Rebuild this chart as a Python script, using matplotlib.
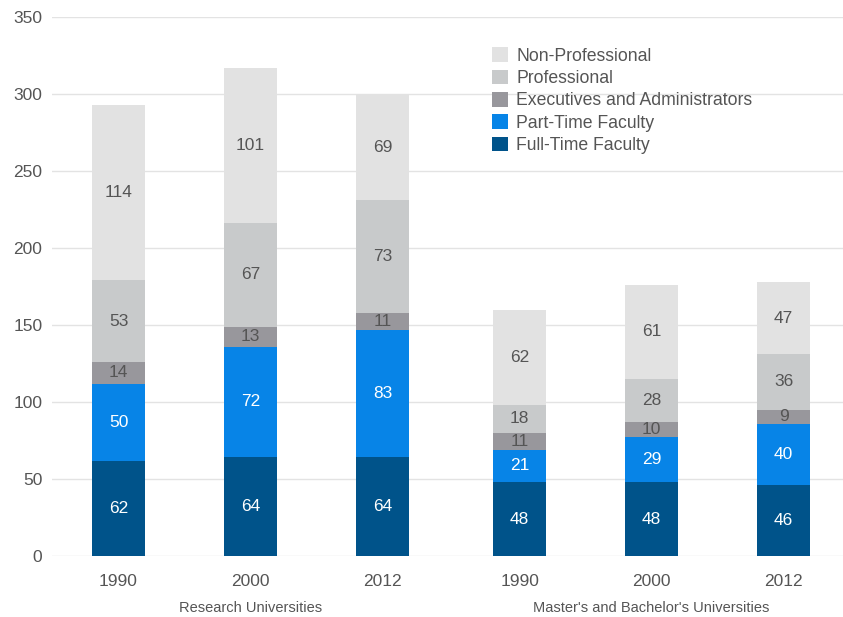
import numpy as np
import matplotlib.pyplot as plt

plt.rcParams['font.family'] = ['Liberation Sans', 'DejaVu Sans']

years = ["1990", "2000", "2012", "1990", "2000", "2012"]
groups = ["Research Universities", "Master's and Bachelor's Universities"]

full_time = [62, 64, 64, 48, 48, 46]
part_time = [50, 72, 83, 21, 29, 40]
executives = [14, 13, 11, 11, 10, 9]
professional = [53, 67, 73, 18, 28, 36]
non_professional = [114, 101, 69, 62, 61, 47]

series = [
    ("Full-Time Faculty", full_time, "#00538a", "white"),
    ("Part-Time Faculty", part_time, "#0784e7", "white"),
    ("Executives and Administrators", executives, "#98979c", "#555555"),
    ("Professional", professional, "#c8cacb", "#555555"),
    ("Non-Professional", non_professional, "#e2e2e2", "#555555"),
]

x = np.array([0, 1, 2, 3.04, 4.04, 5.04])

fig = plt.figure(figsize=(8.43, 6.17), dpi=100)
ax = fig.add_axes([0.0617, 0.0989, 0.9383, 0.8735])

bottom = np.zeros(len(x))
handles = []
for name, vals, color, tcolor in series:
    vals = np.array(vals, dtype=float)
    bars = ax.bar(x, vals, width=0.40, bottom=bottom, color=color, label=name, zorder=3)
    handles.append(bars)
    for xi, b, v in zip(x, bottom, vals):
        ax.text(xi, b + v / 2, f"{int(v)}", ha='center', va='center',
                color=tcolor, fontsize=12.5, zorder=4)
    bottom += vals

ax.set_xlim(-0.504, 5.49)
ax.set_ylim(0, 350)
ax.set_yticks(range(0, 351, 50))
ax.yaxis.grid(True, color='#e3e3e3', linewidth=1, zorder=0)
for s in ax.spines.values():
    s.set_visible(False)
ax.tick_params(axis='both', length=0, labelsize=12.5, labelcolor='#555555')
ax.tick_params(axis='y', pad=7)
ax.tick_params(axis='x', pad=13)
ax.set_xticks(x)
ax.set_xticklabels(years)

for gname, gx in zip(groups, [x[1], x[4]]):
    ax.text(gx, -0.084, gname, transform=ax.get_xaxis_transform(),
            ha='center', va='top', fontsize=10.5, color='#555555')

leg = ax.legend(handles[::-1], [s[0] for s in series][::-1],
                loc='upper left', bbox_to_anchor=(0.547, 0.957), frameon=False,
                fontsize=12.7, handlelength=0.9, handleheight=0.9,
                handletextpad=0.5, labelspacing=0.28, borderaxespad=0)
for t in leg.get_texts():
    t.set_color('#555555')

fig.savefig("out.png", dpi=100)
